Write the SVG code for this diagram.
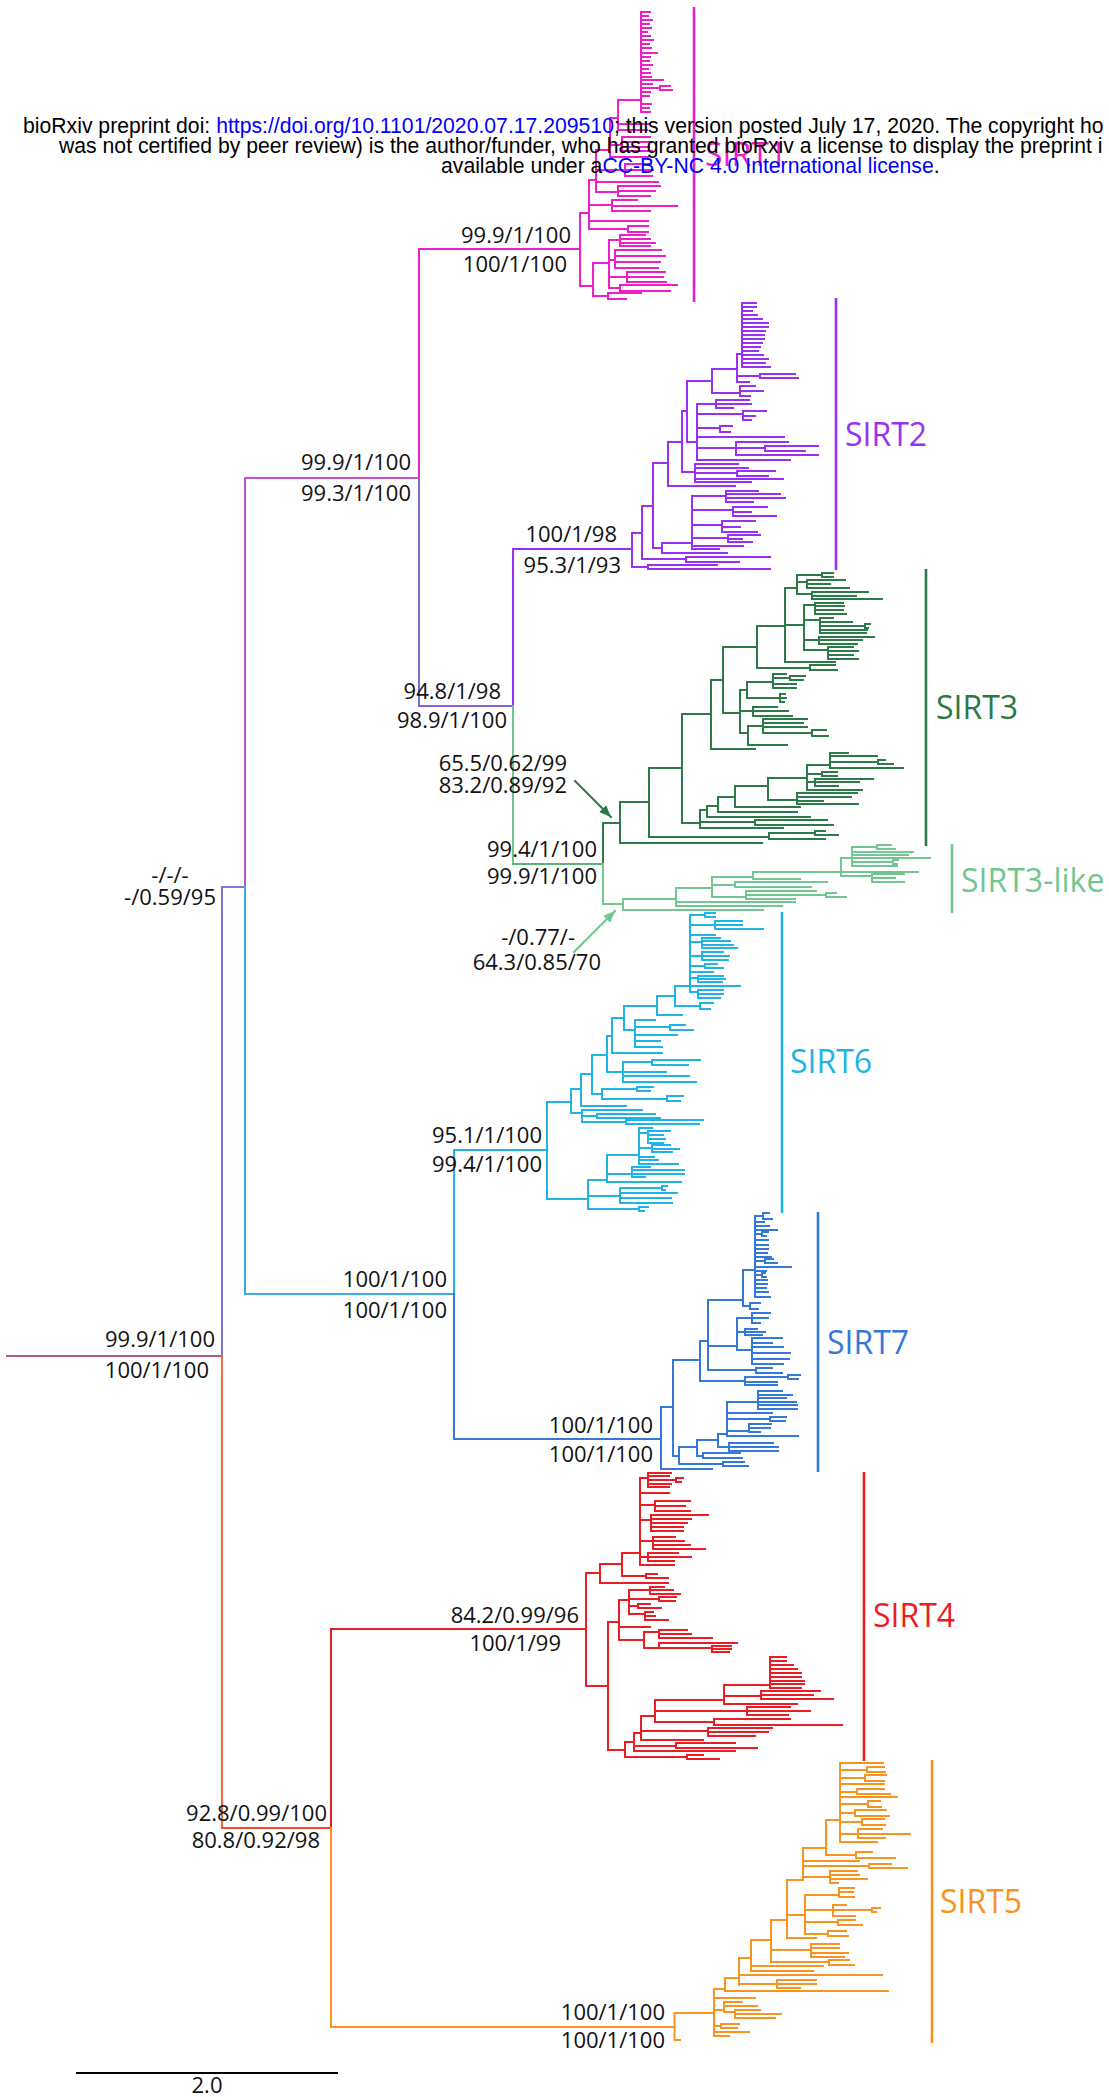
<svg xmlns="http://www.w3.org/2000/svg" width="1109" height="2097" viewBox="0 0 1109 2097">
<defs>
<style>
.t{fill:none;stroke-width:2;stroke-linecap:square}
.bar{fill:none;stroke-width:2.6}
.s1{stroke:#ee1ec8}.s2{stroke:#9a30f4}.s3{stroke:#2b7a48}.s3l{stroke:#72c68f}.s6{stroke:#1fb4e6}.s7{stroke:#3479d9}.s4{stroke:#ec1c24}.s5{stroke:#f7931e}
.n{font-family:"Open Sans","Noto Sans","DejaVu Sans",sans-serif;font-size:22px;fill:#111;text-anchor:end}
.c{font-family:"Open Sans","Noto Sans","DejaVu Sans",sans-serif;font-size:32px}
.h{font-family:"Liberation Sans",Arial,sans-serif;font-size:21.2px;fill:#000}
.lk{fill:#0000ff}
</style>
<marker id="ah3" viewBox="0 0 12 10" refX="12" refY="5" markerWidth="12" markerHeight="10" markerUnits="userSpaceOnUse" orient="auto"><path d="M0 0L12 5L0 10z" fill="#2b7a48"/></marker>
<marker id="ah3l" viewBox="0 0 12 10" refX="12" refY="5" markerWidth="12" markerHeight="10" markerUnits="userSpaceOnUse" orient="auto"><path d="M0 0L12 5L0 10z" fill="#72c68f"/></marker>
</defs>
<rect width="1109" height="2097" fill="#fff"/>

<g id="connectors" class="t">
<path stroke="#b45a7d" d="M7 1356H222"/>
<path stroke="#7b74d6" d="M222 887V1356"/>
<path stroke="#8a74d4" d="M222 887H245"/>
<path stroke="#b455c9" d="M245 478V887"/>
<path stroke="#cc4fd2" d="M245 478H419"/>
<path stroke="#ee1ec8" d="M419 249V478M419 249H580"/>
<path stroke="#7a6cc8" d="M419 478V706"/>
<path stroke="#8b5fe0" d="M419 706H513"/>
<path stroke="#9a30f4" d="M513 549V706M513 549H632"/>
<path stroke="#73c38e" d="M513 706V864"/>
<path stroke="#5bb37c" d="M513 864H603"/>
<path stroke="#38a9e2" d="M245 887V1294M245 1294H454"/>
<path stroke="#1fb4e6" d="M454 1150V1294M454 1150H547"/>
<path stroke="#3479d9" d="M454 1294V1439M454 1439H661"/>
<path stroke="#f26b3a" d="M222 1356V1828"/>
<path stroke="#ef4a2c" d="M222 1828H331"/>
<path stroke="#ec1c24" d="M331 1629V1828M331 1629H586"/>
<path stroke="#f7931e" d="M331 1828V2027M331 2027H674.5"/>
<path stroke="#2b7a48" d="M575 781L611 817" marker-end="url(#ah3)"/>
<path stroke="#72c68f" d="M574 952L615 911" marker-end="url(#ah3l)"/>
</g>

<g id="SIRT1">
<path class="t s1" d="M580 213V286M580 213H589M589 180V229M589 229H628M628 226V232M628 226H648M628 232H648M589 221H648M589 205H612M612 200V211M612 200H637M612 206H677M612 211H650M589 180H596M596 150V192M596 192H618M618 186V196M618 186H660M618 191H655M618 196H650M596 182H658M596 170H625M625 164V176M625 164H651M625 170H653M625 176H652M596 150H610M610 118V157M610 157H648M610 145H622M622 137V151M622 137H650M622 142H651M622 147H649M622 151H652M610 118H618M618 100V130M618 130H647M618 124H650M618 100H641M641 12V112M641 12H650M641 16H648M641 20H652M641 24H649M641 28H651M641 32H647M641 36H650M641 40H653M641 44H649M641 48H651M641 53H657M641 57H650M641 61H649M641 65H652M641 69H648M641 73H650M641 77H651M641 80H663M641 84H652M641 88H660M660 86V90M660 86H670M660 90H672M641 92H650M641 96H649M641 104H651M641 108H649M641 112H650M580 286H593M593 263V296M593 296H608M608 293V299M608 293H641M608 299H626M593 263H609M609 240V288M609 288H620M620 285V291M620 285H677M620 291H670M609 277H627M627 272V282M627 272H665M627 277H663M627 282H666M609 260H615M615 250V268M615 250H661M615 256H665M615 262H660M615 268H658M609 240H620M620 235V246M620 235H645M620 239H650M620 243H655M620 246H650"/>
<path class="bar s1" d="M694 7V302"/>
<text class="c" x="705" y="166" fill="#ee1ec8">SIRT1</text>
</g>

<g id="SIRT2">
<path class="t s2" d="M632 533V567M632 567H648M648 565V569M648 565H717M648 569H770M632 533H642M642 506V559M642 559H686M686 557V562M686 557H770M686 562H739M642 506H653M653 463V548M653 548H662M662 543V553M662 553H727M662 543H692M692 496V549M692 496H726M726 491V502M726 491H758M726 494H780M726 498H785M726 502H753M692 510H733M733 507V516M733 507H767M733 512H751M733 516H776M692 525H722M722 521V532M722 521H755M722 527H740M722 532H757M692 538H728M728 535V542M728 535H760M728 539H742M728 542H752M692 546H743M692 549H719M653 463H668M668 442V486M668 486H735M668 442H682M682 411V472M682 472H695M695 464V482M695 464H738M695 468H748M695 473H737M737 471V476M737 471H775M737 476H768M695 479H783M695 482H751M682 411H687M687 381V442M687 442H697M697 404V460M697 404H716M716 400V408M716 400H749M716 404H751M716 408H733M697 414H743M743 411V420M743 411H766M743 416H755M743 420H751M697 428H720M720 426V432M720 426H732M720 432H730M697 437H784M697 448H736M736 442V455M736 442H788M736 448H765M765 446V451M765 446H818M765 451H805M736 455H818M697 460H790M687 381H712M712 369V393M712 393H740M740 386V396M740 386H755M740 391H763M740 396H750M712 369H737M737 354V382M737 382H749M737 376H760M760 374V378M760 374H795M760 378H798M737 354H742M742 303V367M742 303H756M742 307H756M742 311H752M742 315H757M742 319H762M742 323H768M742 327H768M742 331H765M742 335H764M742 339H764M742 343H762M742 347H760M742 351H758M742 355H763M742 359H768M742 363H765M742 367H770"/>
<path class="bar s2" d="M836 298V570"/>
<text class="c" x="845" y="446" fill="#9a30f4">SIRT2</text>
</g>

<g id="SIRT3">
<path class="t s3" d="M603 823V864M603 823H620M620 802V843M620 843H762M620 802H649M649 768V837M649 837H769M769 833V839M769 833H815M815 831V835M815 831H825M815 835H838M769 839H825M649 768H682M682 714V823M682 714H711M711 680V749M711 749H755M711 680H723M723 647V713M723 713H740M740 690V733M740 690H747M747 682V698M747 682H773M773 674V688M773 674H786M773 678H790M790 676V680M790 676H805M790 680H803M773 684H796M773 688H796M747 698H780M780 694V702M780 694H785M780 698H786M780 702H784M740 711H753M753 707V716M753 707H777M753 711H788M753 716H792M740 733H748M748 726V745M748 745H787M748 726H763M763 719V733M763 719H807M763 723H803M763 727H807M763 733H812M812 730V736M812 730H826M812 736H828M723 647H757M757 626V668M757 668H810M810 665V670M810 665H835M810 670H837M757 626H785M785 588V662M785 662H835M785 588H797M797 575V594M797 575H822M822 573V577M822 573H833M822 577H833M797 582H807M807 580V588M807 580H845M807 584H830M807 588H849M797 594H812M812 592V599M812 592H868M812 596H856M812 599H882M785 625H804M804 605V650M804 605H815M815 603V614M815 603H843M815 606H844M815 610H843M815 614H846M804 620H820M820 618V633M820 618H833M820 622H852M820 626H865M865 624V628M865 624H870M865 628H868M820 630H867M820 633H866M804 640H819M819 637V644M819 637H874M819 640H862M819 644H857M804 650H828M828 647V659M828 647H853M828 651H858M828 655H853M828 659H858M682 823H700M700 810V828M700 828H783M700 822H755M755 820V825M755 820H827M755 825H833M700 810H707M707 806V817M707 817H810M707 806H718M718 797V812M718 812H797M718 797H735M735 786V807M735 807H800M735 786H768M768 778V800M768 800H797M797 793V804M797 793H857M797 797H851M797 801H823M797 804H858M768 778H807M807 765V790M807 790H862M807 782H815M815 779V786M815 779H873M815 782H859M815 786H838M807 774H822M822 772V776M822 772H837M822 776H837M807 765H830M830 753V768M830 768H903M830 762H878M878 760V764M878 760H885M878 764H893M830 756H877M830 753H848"/>
<path class="bar s3" d="M926 569V846"/>
<text class="c" x="936" y="719" fill="#2b7a48">SIRT3</text>
</g>

<g id="SIRT3-like">
<path class="t s3l" d="M603 864V904M603 904H623M623 899V910M623 910H763M623 899H676M676 888V906M676 906H782M676 902H795M676 888H712M712 877V897M712 897H746M746 891V899M746 891H816M746 895H826M826 893V897M826 893H836M826 897H846M746 899H795M712 885H735M735 882V887M735 882H827M735 887H811M712 877H753M753 872V879M753 879H800M753 872H841M841 858V876M841 872H918M841 876H872M872 874V882M872 874H904M872 878H895M872 882H904M841 858H852M852 847V866M852 847H877M877 845V849M877 845H891M877 849H895M852 852H913M852 855H908M852 858H930M852 862H893M893 860V864M893 860H898M893 864H897M852 866H897"/>
<path class="bar s3l" d="M952 844V913"/>
<text class="c" x="961" y="892" fill="#72c68f">SIRT3-like</text>
</g>

<g id="SIRT6">
<path class="t s6" d="M547 1102V1199M547 1199H588M588 1180V1209M588 1209H639M639 1207V1211M639 1207H648M639 1211H644M588 1196H620M620 1188V1203M620 1188H662M662 1186V1190M662 1186H667M662 1190H665M620 1193H677M620 1198H671M620 1203H672M588 1180H607M607 1155V1182M607 1182H681M607 1174H632M632 1167V1177M632 1167H650M632 1170H684M632 1174H684M632 1177H645M607 1155H639M639 1128V1164M639 1128H652M639 1133H648M648 1131V1143M648 1131H670M648 1135H663M648 1139H665M648 1143H663M639 1148H652M652 1145V1152M652 1145H670M652 1149H679M652 1152H672M639 1157H654M639 1160H658M639 1164H678M547 1102H571M571 1089V1113M571 1113H582M582 1110V1122M582 1110H642M582 1116H597M597 1114V1118M597 1114H655M597 1118H660M582 1122H626M626 1120V1124M626 1120H703M626 1124H699M571 1089H581M581 1074V1106M581 1106H626M581 1074H592M592 1055V1094M592 1094H602M602 1089V1099M602 1089H637M637 1087V1091M637 1087H653M637 1091H650M602 1099H667M667 1096V1101M667 1096H683M667 1101H680M592 1055H607M607 1036V1072M607 1072H623M623 1062V1082M623 1062H652M652 1060V1065M652 1060H700M652 1065H688M623 1072H666M623 1076H689M623 1082H696M607 1036H612M612 1018V1053M612 1053H662M612 1018H624M624 1006V1030M624 1030H635M635 1020V1047M635 1020H655M635 1027H670M670 1025V1030M670 1025H685M670 1030H693M635 1035H677M635 1041H660M635 1047H662M624 1006H657M657 996V1015M657 1015H682M657 996H675M675 986V1006M675 1006H700M700 1003V1009M700 1003H713M700 1009H710M675 986H690M690 915V992M690 986H740M690 915H705M705 913V917M705 913H715M705 917H715M690 925H715M715 921V929M715 921H742M715 925H742M715 929H763M690 935H715M690 942H702M702 938V948M702 938H720M702 941H730M702 945H733M702 948H737M690 956H702M702 952V960M702 952H723M702 956H729M702 960H728M690 966H705M705 964V968M705 964H717M705 968H723M690 972H713M690 978H698M698 976V982M698 976H723M698 979H725M698 982H722M690 992H698M698 990V998M698 990H723M698 994H723M698 998H720"/>
<path class="bar s6" d="M782 912V1213"/>
<text class="c" x="790" y="1073" fill="#1fb4e6">SIRT6</text>
</g>

<g id="SIRT7">
<path class="t s7" d="M661 1407V1469M661 1469H712M661 1407H673M673 1360V1456M673 1456H679M679 1447V1464M679 1464H723M723 1462V1466M723 1462H744M723 1466H748M679 1447H697M697 1440V1456M697 1456H703M703 1453V1458M703 1453H740M703 1458H742M697 1440H718M718 1434V1447M718 1447H729M729 1443V1451M729 1443H773M729 1447H778M729 1451H778M718 1434H727M727 1402V1436M727 1436H798M727 1431H749M749 1424V1432M749 1424H771M749 1428H770M749 1432H760M727 1419H770M770 1417V1421M770 1417H786M770 1421H785M727 1413H772M727 1402H758M758 1391V1409M758 1391H782M758 1395H792M758 1398H786M758 1402H796M758 1405H797M758 1409H797M673 1360H700M700 1341V1381M700 1381H745M745 1377V1385M745 1377H788M788 1375V1379M788 1375H800M788 1379H798M745 1382H777M745 1385H777M700 1341H708M708 1300V1370M708 1370H756M756 1368V1373M756 1368H772M756 1373H782M708 1346H737M737 1318V1350M737 1318H752M752 1313V1323M752 1313H770M752 1318H768M752 1323H760M737 1332H745M745 1329V1335M745 1329H757M745 1332H765M745 1335H762M737 1350H752M752 1338V1364M752 1338H782M752 1343H772M752 1347H783M752 1353H790M752 1359H789M752 1364H783M708 1300H743M743 1270V1306M743 1306H750M750 1303V1309M750 1303H760M750 1309H758M743 1270H755M755 1216V1297M755 1216H763M763 1213V1219M763 1213H769M763 1219H772M755 1222H764M755 1226H769M755 1230H777M755 1234H762M762 1232V1236M762 1232H768M762 1236H766M755 1240H768M755 1245H768M755 1249H768M755 1253H767M755 1257H771M755 1261H765M765 1259V1263M765 1259H773M765 1263H777M755 1267H791M755 1271H766M755 1275H762M762 1273V1277M762 1273H765M762 1277H766M755 1280H767M755 1284H767M755 1288H766M755 1292H768M755 1297H770"/>
<path class="bar s7" d="M818 1212V1472"/>
<text class="c" x="827" y="1354" fill="#3479d9">SIRT7</text>
</g>

<g id="SIRT4">
<path class="t s4" d="M586 1573V1686M586 1573H600M600 1564V1583M600 1583H668M600 1564H622M622 1553V1576M622 1576H646M646 1574V1578M646 1574H657M646 1578H668M622 1553H640M640 1478V1565M640 1565H674M640 1478H648M648 1473V1487M648 1473H671M648 1476H669M648 1480H676M676 1478V1482M676 1478H683M676 1482H681M648 1484H671M648 1487H669M640 1493H669M640 1505H655M655 1501V1511M655 1501H690M655 1506H685M655 1511H690M640 1520H651M651 1515V1531M651 1515H708M651 1519H691M651 1523H687M651 1527H683M651 1531H683M640 1541H653M653 1537V1549M653 1537H675M653 1541H684M653 1545H690M653 1549H705M640 1557H648M648 1553V1561M648 1553H678M648 1557H691M648 1561H674M586 1686H608M608 1622V1750M608 1622H619M619 1600V1640M619 1600H629M629 1590V1614M629 1590H650M650 1587V1594M650 1587H664M650 1590H673M650 1594H680M629 1599H659M659 1597V1601M659 1597H676M659 1601H675M629 1606H638M638 1604V1608M638 1604H650M638 1608H661M629 1614H645M645 1612V1620M645 1612H653M645 1616H655M645 1620H668M619 1627H650M619 1640H644M644 1632V1648M644 1632H659M659 1630V1638M659 1630H687M659 1634H691M659 1638H712M644 1648H659M659 1643V1648M659 1643H737M659 1648H712M712 1646V1652M712 1646H731M712 1649H731M712 1652H729M608 1750H625M625 1742V1757M625 1757H687M687 1755V1759M687 1755H703M687 1759H719M625 1742H634M634 1733V1751M634 1751H735M634 1746H676M676 1743V1748M676 1743H735M676 1748H757M634 1733H641M641 1716V1740M641 1740H703M641 1731H708M708 1728V1736M708 1728H772M708 1732H768M708 1736H755M641 1716H655M655 1700V1722M655 1722H714M714 1719V1725M714 1719H790M714 1725H842M655 1711H747M747 1707V1715M747 1707H790M747 1711H810M747 1715H788M655 1700H724M724 1685V1704M724 1704H797M724 1696H761M761 1691V1699M761 1691H820M761 1695H813M761 1699H833M724 1685H770M770 1657V1688M770 1657H786M770 1661H786M770 1665H793M770 1669H797M770 1673H801M770 1677H801M770 1681H804M770 1684H804M770 1688H801"/>
<path class="bar s4" d="M864 1472V1761"/>
<text class="c" x="873" y="1627" fill="#ec1c24">SIRT4</text>
</g>

<g id="SIRT5">
<path class="t s5" d="M674.5 2013V2040M674.5 2040H680M674.5 2013H714M714 1989V2036M714 2036H729M714 2032H749M714 2026H721M721 2024V2028M721 2024H739M721 2028H737M714 2010H724M724 2002V2012M724 2002H742M724 2006H757M724 2012H735M735 2010V2018M735 2010H760M735 2014H781M735 2018H775M714 1998H755M714 1989H725M725 1978V1991M725 1991H888M725 1978H739M739 1958V1985M739 1984H777M777 1980V1988M777 1980H816M777 1984H816M777 1988H800M739 1975H882M739 1958H751M751 1940V1971M751 1971H813M751 1966H823M751 1940H771M771 1920V1962M771 1962H829M829 1960V1965M829 1960H849M829 1965H854M771 1950H811M811 1944V1957M811 1944H839M811 1948H839M811 1953H848M811 1957H844M771 1920H787M787 1880V1938M787 1938H816M787 1915H805M805 1895V1934M805 1934H828M828 1931V1936M828 1931H846M828 1936H848M805 1922H838M838 1920V1925M838 1920H855M838 1925H862M805 1910H833M833 1905V1916M833 1905H846M833 1910H872M872 1908V1912M872 1908H880M872 1912H876M833 1916H855M805 1895H839M839 1888V1897M839 1888H854M839 1892H853M839 1897H854M787 1880H803M803 1848V1880M803 1877H830M830 1871V1883M830 1871H857M830 1875H859M830 1879H867M830 1883H838M803 1866H869M869 1864V1868M869 1864H891M869 1868H907M803 1861H859M803 1848H826M826 1820V1855M826 1855H856M856 1852V1858M856 1852H872M856 1858H895M826 1820H840M840 1763V1842M840 1842H877M840 1834H858M858 1829V1838M858 1829H882M858 1834H910M858 1838H885M840 1822H862M862 1819V1825M862 1819H884M862 1825H885M840 1813H855M855 1810V1816M855 1810H886M855 1816H889M840 1804H868M868 1801V1807M868 1801H880M868 1807H881M840 1797H897M840 1792H857M857 1789V1794M857 1789H884M857 1794H890M840 1784H884M840 1778H865M865 1775V1781M865 1775H886M865 1781H884M840 1770H867M867 1767V1772M867 1767H884M867 1772H885M840 1763H883"/>
<path class="bar s5" d="M932 1760V2043"/>
<text class="c" x="940" y="1913" fill="#f7931e">SIRT5</text>
</g>

<g id="support-labels">
<text class="n" x="571" y="243">99.9/1/100</text>
<text class="n" x="567" y="272">100/1/100</text>
<text class="n" x="411" y="470">99.9/1/100</text>
<text class="n" x="411" y="501">99.3/1/100</text>
<text class="n" x="617" y="542">100/1/98</text>
<text class="n" x="621" y="573">95.3/1/93</text>
<text class="n" x="501" y="699">94.8/1/98</text>
<text class="n" x="507" y="728">98.9/1/100</text>
<text class="n" x="567" y="771">65.5/0.62/99</text>
<text class="n" x="567" y="793">83.2/0.89/92</text>
<text class="n" x="597" y="857">99.4/1/100</text>
<text class="n" x="597" y="884">99.9/1/100</text>
<text class="n" x="575" y="945">-/0.77/-</text>
<text class="n" x="601" y="970">64.3/0.85/70</text>
<text class="n" x="542" y="1143">95.1/1/100</text>
<text class="n" x="542" y="1172">99.4/1/100</text>
<text class="n" x="170" y="883" text-anchor="middle" style="text-anchor:middle">-/-/-</text>
<text class="n" x="216" y="905">-/0.59/95</text>
<text class="n" x="447" y="1287">100/1/100</text>
<text class="n" x="447" y="1318">100/1/100</text>
<text class="n" x="215" y="1347">99.9/1/100</text>
<text class="n" x="209" y="1378">100/1/100</text>
<text class="n" x="653" y="1433">100/1/100</text>
<text class="n" x="653" y="1462">100/1/100</text>
<text class="n" x="579" y="1623">84.2/0.99/96</text>
<text class="n" x="561" y="1651">100/1/99</text>
<text class="n" x="327" y="1821">92.8/0.99/100</text>
<text class="n" x="320" y="1848">80.8/0.92/98</text>
<text class="n" x="665" y="2020">100/1/100</text>
<text class="n" x="665" y="2048">100/1/100</text>
</g>

<g id="scale-bar">
<path d="M76 2073H338" stroke="#000" stroke-width="2" fill="none"/>
<text class="n" x="207" y="2093" style="text-anchor:middle">2.0</text>
</g>

<g id="header">
<text class="h" x="23" y="133">bioRxiv preprint doi: <tspan class="lk">https://doi.org/10.1101/2020.07.17.209510</tspan>; this version posted July 17, 2020. The copyright ho</text>
<text class="h" x="59" y="153">was not certified by peer review) is the author/funder, who has granted bioRxiv a license to display the preprint i</text>
<text class="h" x="441" y="173">available under a<tspan class="lk">CC-BY-NC 4.0 International license</tspan>.</text>
</g>
</svg>
